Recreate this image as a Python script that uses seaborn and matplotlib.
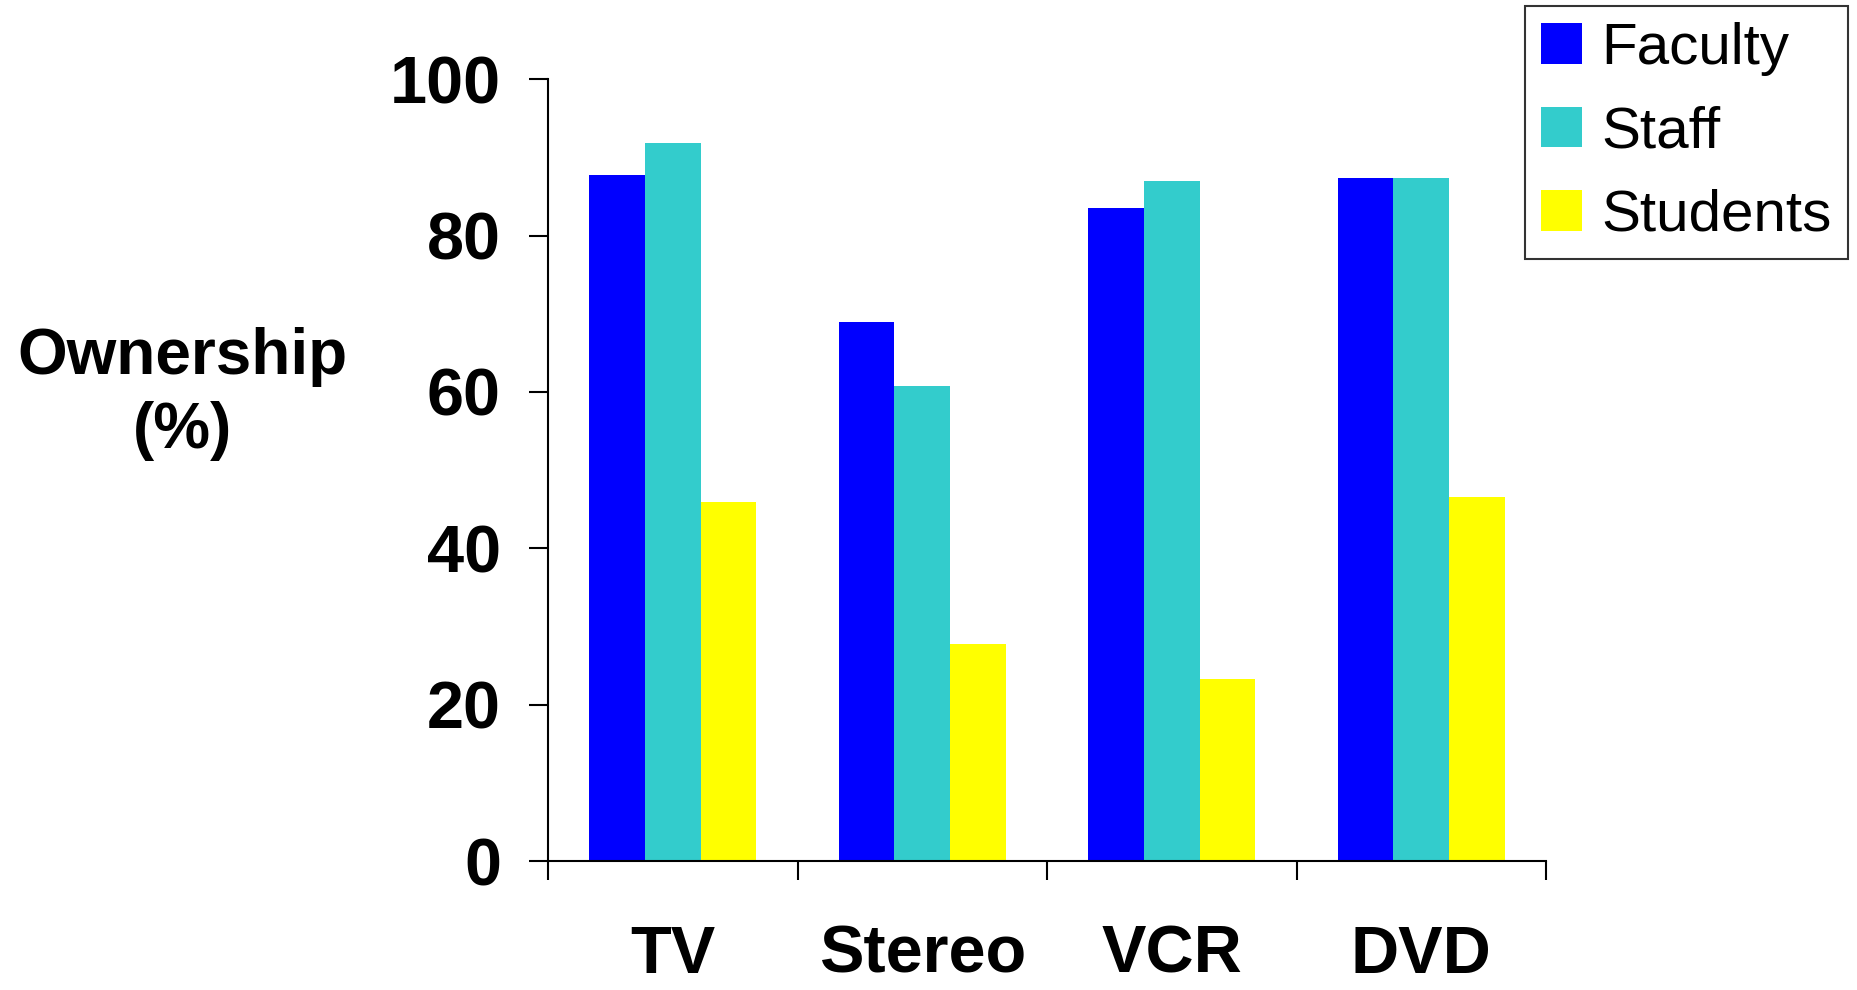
import pandas as pd
import matplotlib
matplotlib.use("Agg")
import matplotlib.pyplot as plt
import seaborn as sns

# chart data
items = ["TV", "Stereo", "VCR", "DVD"]
groups = ["Faculty", "Staff", "Students"]
faculty = [87.7, 68.9, 83.5, 87.4]
staff = [91.8, 60.8, 87.0, 87.4]
students = [45.9, 27.7, 23.3, 46.5]
yticks = [0, 20, 40, 60, 80, 100]
colors = ["#0000FF", "#33CCCC", "#FFFF00"]

df = pd.DataFrame({
    "item": items * 3,
    "group": [g for g in groups for _ in items],
    "pct": faculty + staff + students,
})

sns.set_theme(style="white")
plt.rcParams["font.family"] = ["Liberation Sans", "DejaVu Sans"]
plt.rcParams["text.color"] = "black"
plt.rcParams["axes.labelcolor"] = "black"
plt.rcParams["xtick.color"] = "black"
plt.rcParams["ytick.color"] = "black"

fig = plt.figure(figsize=(18.57, 9.9), dpi=100)
ax = fig.add_axes([0.2952, 0.1303, 0.8325 - 0.2952, 0.920 - 0.1303])

sns.barplot(data=df, x="item", y="pct", hue="group", palette=colors,
            width=0.67, saturation=1, linewidth=0, ax=ax)

ax.set_ylim(0, 100)
ax.set_xlim(-0.5, len(items) - 0.5)
ax.set_yticks(yticks)
ax.set_yticklabels([str(v) for v in yticks], fontsize=48, fontweight="bold")
ax.set_xticks(range(len(items)))
ax.set_xticklabels(items, fontsize=48, fontweight="bold")
ax.set_xticks([i - 0.5 for i in range(len(items) + 1)], minor=True)
ax.tick_params(axis="x", which="major", length=0, pad=46)
ax.tick_params(axis="x", which="minor", length=14, width=1.5, direction="out",
               color="black", bottom=True)
ax.tick_params(axis="y", length=14, width=1.5, direction="out", color="black",
               pad=20, left=True)

for side in ["top", "right"]:
    ax.spines[side].set_visible(False)
for side in ["left", "bottom"]:
    ax.spines[side].set_color("black")
    ax.spines[side].set_linewidth(1.5)

ax.set_xlabel("")
ax.set_ylabel("Ownership\n(%)", rotation=0, fontsize=46, fontweight="bold",
              ha="center", va="center", linespacing=1.3)
ax.yaxis.set_label_coords(-0.367, 0.597)

handles, labels = ax.get_legend_handles_labels()
leg = ax.legend(handles, labels, loc="upper right", bbox_to_anchor=(0.9952, 0.994),
                bbox_transform=fig.transFigure, borderaxespad=0, fontsize=42,
                frameon=True, fancybox=False, handlelength=0.7, handleheight=0.7,
                handletextpad=0.33, labelspacing=0.5, borderpad=0.28)
leg.get_frame().set_edgecolor("black")
leg.get_frame().set_linewidth(1.5)

fig.savefig("out.png", dpi=100)
